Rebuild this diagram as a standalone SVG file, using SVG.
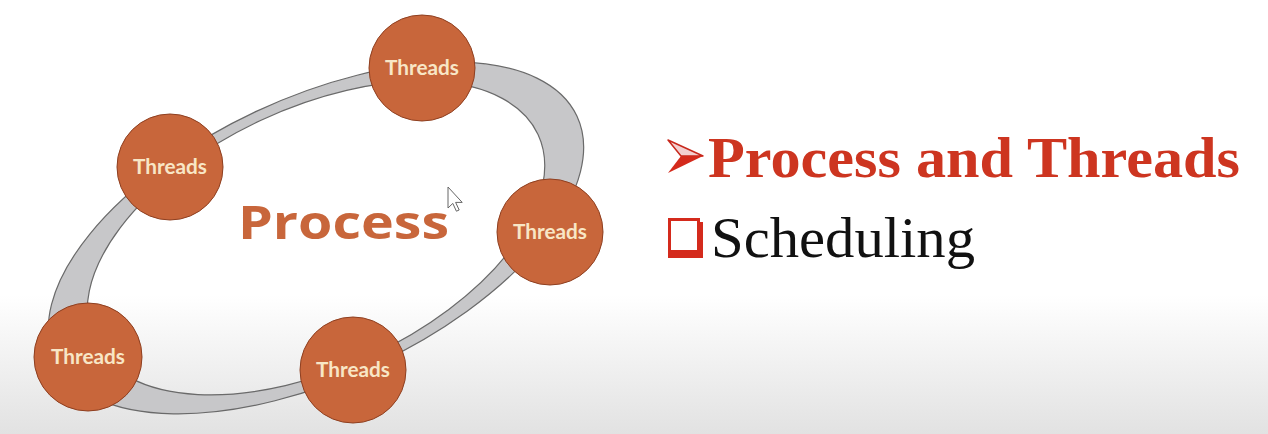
<svg xmlns="http://www.w3.org/2000/svg" width="1268" height="434" viewBox="0 0 1268 434">
<defs>
<linearGradient id="bg" x1="0" y1="0" x2="0" y2="1">
<stop offset="0" stop-color="#ffffff"/>
<stop offset="0.68" stop-color="#ffffff"/>
<stop offset="1" stop-color="#e2e2e2"/>
</linearGradient>
<style>
.thread circle{fill:#c8663b;stroke:#8e3f20;stroke-width:1}
.thread text{font-family:Lato,"Open Sans",sans-serif;font-weight:bold;font-size:20px;fill:#f8e6c6;text-anchor:middle}
.ring{fill:#c7c7c9;stroke:#6a6a6a;stroke-width:1.2;fill-rule:evenodd}
</style>
</defs>
<rect width="1268" height="434" fill="url(#bg)"/>
<g id="connectors">
<path class="ring" transform="rotate(-25 316 238)" d="M28,238 a288,140 0 1,0 576,0 a288,140 0 1,0 -576,0 Z M71,238 a245,130 0 1,0 490,0 a245,130 0 1,0 -490,0 Z"/>
</g>
<text id="process-label" x="238" y="239" font-family="'Open Sans',Lato,sans-serif" font-weight="bold" font-size="47" fill="#c8663b" textLength="211" lengthAdjust="spacingAndGlyphs">Process</text>
<g id="thread-top" class="thread"><circle cx="422" cy="68" r="53"/><text x="422" y="75" textLength="74" lengthAdjust="spacingAndGlyphs">Threads</text></g>
<g id="thread-left" class="thread"><circle cx="170" cy="167" r="53"/><text x="170" y="174" textLength="74" lengthAdjust="spacingAndGlyphs">Threads</text></g>
<g id="thread-right" class="thread"><circle cx="550" cy="232" r="53"/><text x="550" y="239" textLength="74" lengthAdjust="spacingAndGlyphs">Threads</text></g>
<g id="thread-bottomleft" class="thread"><circle cx="88" cy="357" r="54"/><text x="88" y="364" textLength="74" lengthAdjust="spacingAndGlyphs">Threads</text></g>
<g id="thread-bottom" class="thread"><circle cx="353" cy="370" r="53"/><text x="353" y="377" textLength="74" lengthAdjust="spacingAndGlyphs">Threads</text></g>
<path id="cursor" d="M448,187 v21 l4.8,-4.6 l3.6,7.8 l2.8,-1.2 l-3.6,-7.6 h6.6 z" fill="#ffffff" stroke="#666" stroke-width="1"/>
<g id="bullet1">
<polygon points="668,140 703,156 681,156" fill="#f3d0d0" stroke="#c8281c" stroke-width="1.5" stroke-linejoin="round"/>
<polygon points="681,156 703,156 668,173" fill="#d42a1c"/>
</g>
<text x="708" y="177" font-family="'Liberation Serif',serif" font-weight="bold" font-size="56" fill="#cd3520" textLength="532" lengthAdjust="spacingAndGlyphs">Process and Threads</text>
<g id="bullet2">
<path d="M671,222 h32 v36 h-35 v-33 z" fill="#d42a1c"/>
<rect x="669.5" y="219.5" width="29" height="32" fill="#ffffff" stroke="#d42a1c" stroke-width="3"/>
</g>
<text x="711" y="257" font-family="'Liberation Serif',serif" font-size="56" fill="#111111" textLength="264" lengthAdjust="spacingAndGlyphs">Scheduling</text>
</svg>
